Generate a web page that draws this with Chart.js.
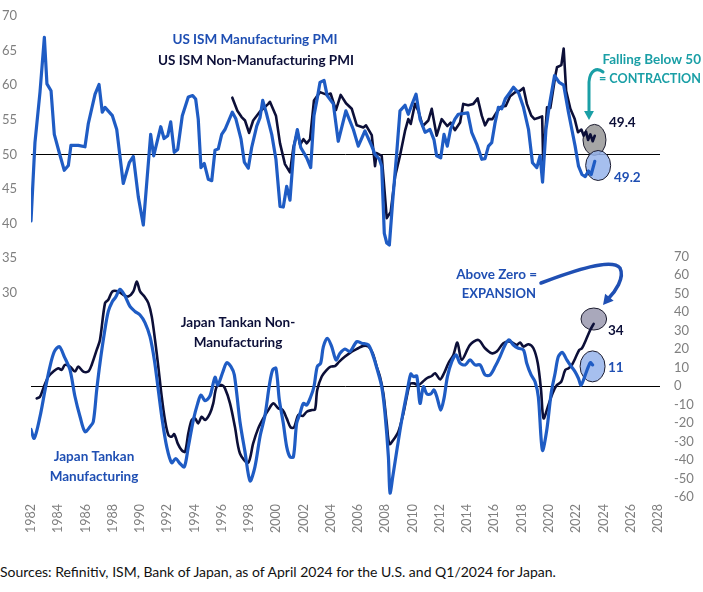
<!DOCTYPE html>
<html lang="en">
<head>
  <meta charset="UTF-8">
  <title>US ISM PMI vs Japan Tankan</title>
  <script src="https://cdn.jsdelivr.net/npm/chart.js"></script>
  <style>
    html, body { margin: 0; padding: 0; background: #fff; }
    #wrap { position: relative; width: 703px; height: 592px; overflow: hidden; }
    #chartBox { position: absolute; left: 0; top: 0; width: 703px; height: 545px; }
    #source {
      position: absolute; left: 0; top: 563px;
      font: 14px Lato, sans-serif; color: #111; white-space: nowrap;
    }
  </style>
</head>
<body>
  <div id="wrap">
    <div id="chartBox"><canvas id="pmiChart"></canvas></div>
    <div id="source">Sources: Refinitiv, ISM, Bank of Japan, as of April 2024 for the U.S. and Q1/2024 for Japan.</div>
  </div>

  <script>
    // x values are positions on the chart's year axis
    const ismMfgYears = [1982.0, 1982.29, 1982.66, 1982.98, 1983.17, 1983.47, 1983.71, 1984.08, 1984.44, 1984.74,
      1984.93, 1985.47, 1985.96, 1986.2, 1986.7, 1986.99, 1987.23, 1987.43, 1987.97, 1988.29,
      1988.77, 1989.21, 1989.51, 1989.87, 1990.24, 1990.78, 1991.0, 1991.52, 1991.76, 1992.03,
      1992.25, 1992.51, 1992.76, 1993.1, 1993.54, 1993.86, 1994.08, 1994.27, 1994.47, 1994.71,
      1995.01, 1995.26, 1995.5, 1995.74, 1995.99, 1996.23, 1996.77, 1997.02, 1997.41, 1997.65,
      1997.94, 1998.19, 1998.56, 1998.8, 1999.0, 1999.29, 1999.66, 1999.97, 2000.27, 2000.51,
      2000.76, 2001.0, 2001.3, 2001.54, 2001.79, 2002.23, 2002.52, 2002.76, 2003.0, 2003.2,
      2003.5, 2003.73, 2004.18, 2004.54, 2005.1, 2005.65, 2006.01, 2006.5, 2007.0, 2007.24,
      2007.56, 2007.73, 2007.92, 2008.1, 2008.29, 2008.54, 2008.83, 2009.07, 2009.44, 2009.68,
      2010.0, 2010.25, 2010.54, 2010.91, 2011.27, 2011.57, 2011.76, 2012.06, 2012.3, 2012.54,
      2012.79, 2013.1, 2013.35, 2014.04, 2014.33, 2014.7, 2015.07, 2015.31, 2015.56, 2015.8,
      2016.05, 2016.29, 2016.54, 2016.79, 2017.15, 2017.4, 2017.77, 2018.13, 2018.5, 2018.79,
      2019.11, 2019.35, 2019.53, 2019.78, 2020.02, 2020.41, 2020.75, 2021.08, 2021.43, 2021.68,
      2021.92, 2022.17, 2022.42, 2022.66, 2022.9, 2023.1, 2023.36];
    const ismMfgValues = [40.4, 51.7, 59.0, 66.9, 60.2, 59.2, 52.9, 50.2, 47.7, 48.4,
      51.3, 51.3, 51.1, 54.4, 58.7, 60.1, 56.1, 56.8, 55.6, 53.6,
      45.8, 48.8, 49.7, 43.9, 39.8, 52.9, 49.8, 54.0, 52.3, 52.7,
      54.7, 50.3, 50.7, 55.6, 58.3, 58.5, 58.0, 55.1, 48.1, 48.7,
      46.4, 46.2, 50.6, 50.8, 52.9, 53.6, 56.1, 55.2, 52.2, 48.9,
      48.0, 51.0, 54.1, 55.3, 57.8, 55.8, 52.9, 49.3, 42.5, 42.4,
      45.4, 43.4, 51.2, 53.6, 51.0, 49.5, 48.1, 55.6, 58.1, 60.4,
      60.7, 58.5, 57.3, 51.9, 56.3, 53.6, 51.2, 53.4, 51.2, 50.0,
      49.3, 48.3, 38.6, 37.2, 36.9, 43.4, 50.2, 56.3, 57.1, 55.8,
      57.5, 58.7, 55.1, 53.2, 53.6, 52.1, 49.8, 49.5, 52.9, 51.2,
      53.7, 55.1, 55.8, 56.0, 53.2, 51.5, 49.3, 49.4, 51.2, 51.7,
      54.6, 56.8, 56.6, 58.0, 59.0, 59.7, 58.9, 56.8, 53.6, 48.8,
      48.1, 49.8, 46.0, 53.6, 57.0, 61.4, 60.4, 60.0, 56.1, 53.6,
      51.2, 48.3, 47.1, 46.8, 47.6, 47.1, 49.0];

    const ismNonMfgYears = [1996.77, 1997.14, 1997.45, 1997.7, 1998.0, 1998.3, 1998.8, 1999.41, 1999.53, 1999.97,
      2000.27, 2000.63, 2001.0, 2001.25, 2001.54, 2001.74, 2001.99, 2002.23, 2002.47, 2002.76,
      2003.2, 2003.73, 2003.98, 2004.37, 2004.72, 2005.11, 2005.53, 2005.9, 2006.38, 2006.58,
      2007.0, 2007.24, 2007.36, 2007.73, 2008.1, 2008.39, 2008.71, 2009.07, 2009.44, 2009.68,
      2009.86, 2010.17, 2010.42, 2010.74, 2011.15, 2011.4, 2011.76, 2012.13, 2012.54, 2012.79,
      2013.1, 2013.48, 2013.71, 2014.08, 2014.45, 2014.77, 2015.07, 2015.31, 2015.56, 2015.85,
      2016.17, 2016.49, 2016.83, 2017.15, 2017.52, 2017.88, 2018.13, 2018.38, 2018.7, 2018.94,
      2019.24, 2019.5, 2019.58, 2019.86, 2020.1, 2020.47, 2020.59, 2020.91, 2021.08, 2021.26,
      2021.57, 2021.89, 2022.13, 2022.38, 2022.55, 2022.72, 2022.87, 2023.04, 2023.21, 2023.36];
    const ismNonMfgValues = [58.2, 56.3, 55.4, 54.9, 53.1, 54.9, 56.2, 57.3, 57.6, 55.6,
      51.6, 48.6, 47.4, 51.0, 53.3, 51.4, 52.2, 51.6, 52.2, 57.8,
      59.0, 58.6, 58.8, 56.4, 58.6, 57.4, 56.6, 54.2, 53.9, 54.2,
      52.8, 48.3, 50.2, 49.8, 40.8, 41.7, 46.8, 49.8, 53.4, 55.1,
      54.4, 57.3, 56.3, 54.1, 54.9, 56.6, 52.7, 55.1, 54.1, 54.6,
      53.5, 54.6, 57.3, 57.1, 57.3, 58.1, 55.6, 54.2, 55.1, 55.1,
      56.1, 56.9, 57.0, 58.4, 59.0, 59.2, 59.6, 57.3, 55.6, 55.1,
      55.3, 55.5, 48.8, 56.8, 56.7, 61.4, 62.6, 62.9, 65.3, 59.2,
      56.6, 55.1, 53.2, 53.6, 52.7, 53.3, 52.1, 52.9, 51.9, 52.7];

    const tankanMfgYears = [1982.0, 1982.24, 1982.66, 1983.03, 1983.39, 1983.71, 1984.08, 1984.44, 1984.86, 1985.23,
      1985.6, 1985.96, 1986.33, 1986.57, 1986.82, 1987.06, 1987.38, 1987.67, 1987.97, 1988.21,
      1988.53, 1988.85, 1989.26, 1989.63, 1990.0, 1990.36, 1990.73, 1991.05, 1991.34, 1991.63,
      1991.96, 1992.32, 1992.62, 1992.93, 1993.25, 1993.54, 1993.91, 1994.23, 1994.47, 1994.77,
      1995.13, 1995.5, 1995.7, 1996.04, 1996.36, 1996.67, 1996.92, 1997.33, 1997.7, 1998.07,
      1998.43, 1998.8, 1999.17, 1999.49, 1999.73, 1999.97, 2000.22, 2000.51, 2000.76, 2001.0,
      2001.25, 2001.49, 2001.74, 2001.98, 2002.23, 2002.52, 2002.76, 2003.0, 2003.25, 2003.45,
      2003.74, 2004.06, 2004.38, 2004.67, 2005.04, 2005.4, 2005.9, 2006.26, 2006.75, 2007.12,
      2007.41, 2007.73, 2007.97, 2008.22, 2008.34, 2008.54, 2008.88, 2009.2, 2009.57, 2009.86,
      2010.05, 2010.3, 2010.54, 2010.79, 2011.04, 2011.33, 2011.57, 2011.81, 2012.06, 2012.3,
      2012.55, 2012.87, 2013.18, 2013.48, 2013.85, 2014.21, 2014.58, 2014.95, 2015.31, 2015.68,
      2016.05, 2016.41, 2016.78, 2017.07, 2017.39, 2017.76, 2018.13, 2018.37, 2018.69, 2018.98,
      2019.22, 2019.52, 2019.84, 2020.16, 2020.45, 2020.69, 2020.98, 2021.31, 2021.55, 2021.91,
      2022.16, 2022.36, 2022.71, 2023.03, 2023.2];
    const tankanMfgValues = [-23.5, -28.3, -16.6, -2.2, 10.5, 18.6, 21.3, 15.9, 8.7, -5.8,
      -16.6, -24.7, -22.0, -19.3, -2.2, 12.3, 28.5, 40.3, 45.7, 48.0,
      52.3, 49.3, 43.0, 40.3, 38.4, 34.3, 26.7, 14.1, -2.2, -18.4,
      -32.9, -41.5, -39.2, -41.9, -43.7, -32.9, -18.4, -9.4, -4.9, -7.9,
      -5.4, 4.7, 0.5, 6.9, 12.6, 10.5, 6.0, -19.3, -35.6, -51.3,
      -43.7, -27.4, -15.7, 0.5, 8.7, 9.6, -7.6, -20.2, -32.9, -38.3,
      -38.3, -20.2, -14.8, -9.4, -10.3, -5.8, -0.4, 10.5, 12.3, 21.3,
      25.8, 21.3, 14.1, 17.7, 20.0, 18.6, 24.0, 23.1, 22.2, 15.9,
      8.7, -0.4, -14.8, -38.3, -57.8, -49.1, -32.9, -18.4, -4.0, 6.5,
      5.1, 5.4, -9.4, -0.4, -4.3, -4.3, -2.2, -6.7, -13.0, -6.7,
      5.1, 13.2, 16.8, 12.3, 11.4, 14.1, 11.4, 11.4, 6.0, 6.0,
      10.5, 15.9, 22.2, 24.9, 22.2, 20.4, 19.5, 12.3, 6.0, 2.3,
      -5.8, -34.7, -23.8, -4.0, 6.9, 15.9, 18.1, 14.1, 11.4, 7.8,
      4.2, 0.5, 6.9, 12.6, 11.4];

    const tankanNonMfgYears = [1982.42, 1982.66, 1982.9, 1983.27, 1983.64, 1984.0, 1984.25, 1984.49, 1984.86, 1985.23,
      1985.47, 1985.84, 1986.2, 1986.45, 1986.82, 1987.06, 1987.43, 1987.67, 1987.97, 1988.4,
      1988.77, 1989.14, 1989.51, 1989.76, 1990.0, 1990.32, 1990.61, 1990.86, 1991.1, 1991.34,
      1991.59, 1991.83, 1992.08, 1992.32, 1992.51, 1992.76, 1993.05, 1993.3, 1993.54, 1993.79,
      1994.03, 1994.27, 1994.52, 1994.77, 1995.13, 1995.37, 1995.62, 1995.99, 1996.23, 1996.6,
      1996.96, 1997.33, 1997.93, 1998.3, 1998.67, 1999.04, 1999.41, 1999.78, 2000.15, 2000.47,
      2000.76, 2001.05, 2001.3, 2001.61, 2001.94, 2002.23, 2002.6, 2002.84, 2003.0, 2003.33,
      2003.7, 2003.99, 2004.3, 2004.62, 2005.04, 2005.53, 2006.01, 2006.38, 2006.75, 2007.07,
      2007.36, 2007.6, 2007.85, 2008.1, 2008.29, 2008.58, 2008.95, 2009.32, 2009.57, 2009.81,
      2010.1, 2010.42, 2010.74, 2011.04, 2011.4, 2011.65, 2012.01, 2012.3, 2012.62, 2012.99,
      2013.28, 2013.6, 2014.21, 2014.82, 2015.31, 2015.8, 2016.17, 2016.65, 2017.15, 2017.64,
      2017.88, 2018.13, 2018.5, 2018.86, 2019.18, 2019.42, 2019.6, 2019.92, 2020.26, 2020.58,
      2020.9, 2021.2, 2021.44, 2021.68, 2021.93, 2022.22, 2022.42, 2022.71, 2023.03, 2023.28];
    const tankanNonMfgValues = [-6.7, -5.8, -1.3, 5.1, 7.8, 9.6, 8.7, 11.4, 10.5, 7.8,
      10.5, 7.8, 7.8, 11.4, 19.5, 24.9, 44.8, 46.6, 51.1, 51.1,
      49.3, 48.4, 51.1, 56.5, 51.1, 48.4, 44.8, 37.5, 24.9, 10.5,
      -5.8, -18.4, -26.5, -27.4, -26.0, -31.0, -34.7, -35.6, -25.6, -18.4,
      -17.5, -20.2, -16.6, -18.4, -14.8, -9.4, -0.4, 0.5, -1.3, -9.4,
      -22.0, -36.5, -41.5, -31.0, -22.9, -17.5, -13.0, -9.4, -12.1, -13.0,
      -17.5, -22.4, -22.4, -15.7, -16.2, -13.9, -13.0, -12.6, -2.2, 5.1,
      8.7, 10.5, 10.8, 13.2, 15.9, 18.6, 20.4, 21.7, 21.3, 17.7,
      10.5, 5.1, -4.0, -20.2, -31.4, -29.2, -24.7, -14.8, -5.8, 1.1,
      1.4, 0.5, 2.3, 4.2, 5.4, 6.9, 3.6, 6.9, 12.3, 16.8,
      23.5, 14.1, 22.2, 24.9, 20.4, 17.7, 18.6, 23.1, 24.0, 22.2,
      23.5, 21.3, 22.6, 20.4, 12.3, -2.2, -17.5, -11.2, -4.0, 0.5,
      2.3, 8.7, 9.6, 11.4, 15.0, 19.5, 20.4, 24.9, 30.3, 33.6];

    // latest readings, circled on the chart
    const latestLabels = ['49.4', '49.2', '34', '11'];

    const BLUE = '#1f5cc4';
    const NAVY = '#0c0f38';
    const BLUE_TEXT = '#1f4fb3';
    const TEAL = '#1a9fa6';
    const GREY = '#7f7f7f';
    const FONT = 'Lato, "Noto Sans", sans-serif';

    function toPoints(xs, ys) {
      return xs.map((x, i) => ({ x: x, y: ys[i] }));
    }

    // ellipses around the last points, placed on the data scales
    const markers = [
      { axis: 'yL', x: 2023.34, y: 52.1, rx: 11.5, ry: 15.5, fill: 'rgba(150,150,150,0.85)' },
      { axis: 'yL', x: 2023.61, y: 48.4, rx: 12.5, ry: 15, fill: 'rgba(150,180,235,0.85)' },
      { axis: 'yR', x: 2023.29, y: 36.2, rx: 12.8, ry: 11, fill: 'rgba(160,158,180,0.9)' },
      { axis: 'yR', x: 2023.2, y: 10.6, rx: 12.5, ry: 15.5, fill: 'rgba(150,180,235,0.85)' }
    ];

    const notes = [
      { text: 'US ISM Manufacturing PMI', x: 255, y: 40, color: BLUE_TEXT, align: 'center' },
      { text: 'US ISM Non-Manufacturing PMI', x: 256, y: 61, color: NAVY, align: 'center' },
      { text: 'Falling Below 50', x: 701, y: 60, color: TEAL, align: 'right' },
      { text: '= CONTRACTION', x: 701, y: 79, color: TEAL, align: 'right', size: 12.6 },
      { text: latestLabels[0], x: 609, y: 123, color: NAVY, align: 'left' },
      { text: latestLabels[1], x: 614, y: 178, color: BLUE_TEXT, align: 'left' },
      { text: 'Above Zero =', x: 537, y: 275, color: BLUE_TEXT, align: 'right' },
      { text: 'EXPANSION', x: 536, y: 294, color: BLUE_TEXT, align: 'right', size: 13 },
      { text: latestLabels[2], x: 608, y: 331, color: NAVY, align: 'left' },
      { text: latestLabels[3], x: 608, y: 368, color: BLUE_TEXT, align: 'left' },
      { text: 'Japan Tankan Non-', x: 238, y: 323, color: NAVY, align: 'center' },
      { text: 'Manufacturing', x: 238, y: 343, color: NAVY, align: 'center' },
      { text: 'Japan Tankan', x: 94, y: 457, color: BLUE_TEXT, align: 'center' },
      { text: 'Manufacturing', x: 94, y: 477, color: BLUE_TEXT, align: 'center' }
    ];

    function arrowHead(ctx, x, y, angle, size, color) {
      ctx.save();
      ctx.translate(x, y);
      ctx.rotate(angle);
      ctx.fillStyle = color;
      ctx.beginPath();
      ctx.moveTo(0, 0);
      ctx.lineTo(-size, -size * 0.55);
      ctx.lineTo(-size, size * 0.55);
      ctx.closePath();
      ctx.fill();
      ctx.restore();
    }

    const annotations = {
      id: 'annotations',
      beforeDatasetsDraw(chart) {
        const { ctx, chartArea, scales } = chart;
        ctx.save();
        // 50 line for the PMIs, zero line for the Tankan
        ctx.strokeStyle = '#000';
        ctx.lineWidth = 1;
        [scales.yL.getPixelForValue(50), scales.yR.getPixelForValue(0)].forEach(y => {
          ctx.beginPath();
          ctx.moveTo(chartArea.left, Math.round(y) + 0.5);
          ctx.lineTo(chartArea.right + 2, Math.round(y) + 0.5);
          ctx.stroke();
        });
        markers.forEach(m => {
          const x = scales.x.getPixelForValue(m.x);
          const y = scales[m.axis].getPixelForValue(m.y);
          ctx.beginPath();
          ctx.ellipse(x, y, m.rx, m.ry, 0, 0, Math.PI * 2);
          ctx.fillStyle = m.fill;
          ctx.fill();
          ctx.strokeStyle = '#1b1b2e';
          ctx.lineWidth = 1;
          ctx.stroke();
        });
        ctx.restore();
      },
      afterDatasetsDraw(chart) {
        const { ctx } = chart;
        ctx.save();
        ctx.textBaseline = 'middle';
        notes.forEach(n => {
          ctx.font = 'bold ' + (n.size || 13.5) + 'px ' + FONT;
          ctx.fillStyle = n.color;
          ctx.textAlign = n.align;
          ctx.fillText(n.text, n.x, n.y);
        });

        ctx.lineCap = 'round';
        // teal hook arrow
        ctx.strokeStyle = TEAL;
        ctx.lineWidth = 3;
        ctx.beginPath();
        ctx.moveTo(603, 72);
        ctx.bezierCurveTo(597, 67, 590, 70, 589, 82);
        ctx.lineTo(589, 112);
        ctx.stroke();
        arrowHead(ctx, 589, 120, Math.PI / 2, 9, TEAL);

        // blue swoosh arrow
        ctx.strokeStyle = BLUE_TEXT;
        ctx.lineWidth = 3.5;
        ctx.beginPath();
        ctx.moveTo(541, 283);
        ctx.bezierCurveTo(575, 270, 612, 258, 620, 268);
        ctx.bezierCurveTo(625, 278, 615, 292, 608, 299);
        ctx.stroke();
        arrowHead(ctx, 603, 305, Math.PI * 0.72, 10, BLUE_TEXT);
        ctx.restore();
      }
    };

    const ctx = document.getElementById('pmiChart').getContext('2d');
    new Chart(ctx, {
      type: 'line',
      data: {
        datasets: [
          {
            label: 'US ISM Manufacturing PMI',
            data: toPoints(ismMfgYears, ismMfgValues),
            yAxisID: 'yL', borderColor: BLUE, borderWidth: 3.2, order: 1
          },
          {
            label: 'US ISM Non-Manufacturing PMI',
            data: toPoints(ismNonMfgYears, ismNonMfgValues),
            yAxisID: 'yL', borderColor: NAVY, borderWidth: 2.6, order: 2
          },
          {
            label: 'Japan Tankan Manufacturing',
            data: toPoints(tankanMfgYears, tankanMfgValues),
            yAxisID: 'yR', borderColor: BLUE, borderWidth: 3.2, tension: 0.3, order: 1
          },
          {
            label: 'Japan Tankan Non-Manufacturing',
            data: toPoints(tankanNonMfgYears, tankanNonMfgValues),
            yAxisID: 'yR', borderColor: NAVY, borderWidth: 2.6, tension: 0.3, order: 2
          }
        ]
      },
      options: {
        responsive: true,
        maintainAspectRatio: false,
        animation: false,
        layout: { padding: { top: 16, left: 0, right: 0, bottom: 0 } },
        elements: { point: { radius: 0 }, line: { borderJoinStyle: 'round', borderCapStyle: 'round' } },
        plugins: { legend: { display: false }, tooltip: { enabled: false } },
        scales: {
          // tick marks are hidden; tickLength is only used as the label offset
          x: {
            type: 'linear', min: 1982, max: 2028,
            grid: { display: false, drawTicks: true, tickLength: 7 }, border: { display: false },
            ticks: {
              stepSize: 2, maxRotation: 90, minRotation: 90, padding: 0, autoSkip: false,
              color: GREY, font: { family: FONT, size: 12.5 },
              callback: v => String(v)
            },
            afterFit: s => { s.height = 48; }
          },
          yL: {
            position: 'left', min: 0.5, max: 70,
            grid: { display: false, drawTicks: true, tickLength: 14 }, border: { display: false },
            ticks: {
              stepSize: 5, padding: 0, autoSkip: false, color: GREY, font: { family: FONT, size: 13 },
              callback: v => (v >= 30 ? v : '')
            },
            afterFit: s => { s.width = 31; }
          },
          yR: {
            position: 'right', min: -60, max: 200,
            grid: { display: false, drawTicks: true, tickLength: 16 }, border: { display: false },
            ticks: {
              stepSize: 10, padding: 0, autoSkip: false, color: GREY, font: { family: FONT, size: 13 },
              callback: v => (v <= 70 ? v : '')
            },
            afterFit: s => { s.width = 45; }
          }
        }
      },
      plugins: [annotations]
    });
  </script>
</body>
</html>
